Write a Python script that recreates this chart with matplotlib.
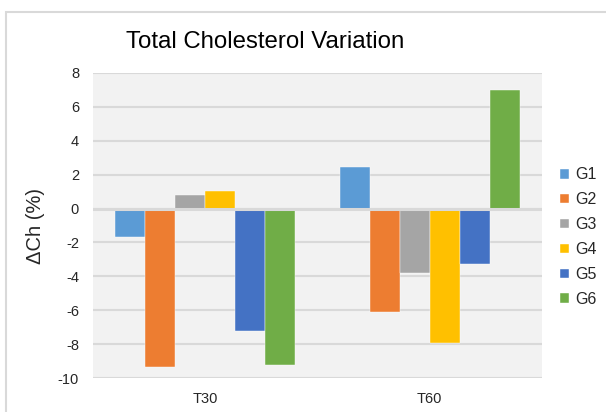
import numpy as np
import matplotlib
matplotlib.use("Agg")
from matplotlib import pyplot as plt
from matplotlib.patches import Rectangle

# Data
times = ["T30", "T60"]
groups = ["G1", "G2", "G3", "G4", "G5", "G6"]
g1 = [-1.65, 2.45]
g2 = [-9.35, -6.1]
g3 = [0.8, -3.8]
g4 = [1.05, -7.95]
g5 = [-7.2, -3.25]
g6 = [-9.2, 7.0]
series = [g1, g2, g3, g4, g5, g6]
colors = ["#5B9BD5", "#ED7D31", "#A5A5A5", "#FFC000", "#4472C4", "#70AD47"]
y_ticks = list(range(-10, 9, 2))

plt.rcParams['font.family'] = ['Liberation Sans', 'DejaVu Sans']
plt.rcParams['axes.unicode_minus'] = False
text_col = "#262626"
grid_col = "#D9D9D9"

fig = plt.figure(figsize=(6.06, 4.12), dpi=100)
fig.patch.set_facecolor("white")

# outer chart border (cropped on right/bottom)
fig.patches.append(Rectangle((6 / 606, -0.05), 1.0, 1 - 12 / 412 + 0.05,
                             transform=fig.transFigure, fill=False,
                             edgecolor=grid_col, linewidth=1.5))

ax = fig.add_axes([93 / 606, 1 - 378.3 / 412, (542 - 93) / 606, (378.3 - 72.7) / 412])
ax.set_facecolor("#F2F2F2")

x = np.arange(len(times))
n = len(series)
w = 0.8 / n
for i, (vals, c, name) in enumerate(zip(series, colors, groups)):
    ax.bar(x - 0.4 + w * (i + 0.5), vals, width=w, color=c, label=name,
           edgecolor="white", linewidth=0.3, zorder=2)

ax.set_xlim(-0.5, 1.5)
ax.set_ylim(-10, 8)
ax.set_yticks(y_ticks)
ax.set_xticks(x)
ax.set_xticklabels(times)
ax.yaxis.grid(True, color=grid_col, linewidth=1.5, zorder=0)
ax.set_axisbelow(True)
ax.axhline(0, color=grid_col, linewidth=2.2, zorder=3)
for s in ax.spines.values():
    s.set_visible(False)
ax.tick_params(length=0, labelsize=10.5, colors=text_col)
ax.tick_params(axis='y', pad=10)
ax.tick_params(axis='x', pad=10)

ax.set_ylabel("\u0394Ch (%)", fontsize=14.5, color=text_col)
ax.yaxis.set_label_coords(-0.108, 0.5)

fig.text(0.437, 1 - 42 / 412, "Total Cholesterol Variation", ha="center",
         va="center", fontsize=17.3, color="black")

ax.legend(loc="center left", bbox_to_anchor=(1.008, 0.462), frameon=False,
          fontsize=11.5, handlelength=0.55, handleheight=0.55,
          handletextpad=0.4, labelspacing=0.62, labelcolor=text_col)

fig.savefig("out.png", dpi=100)
